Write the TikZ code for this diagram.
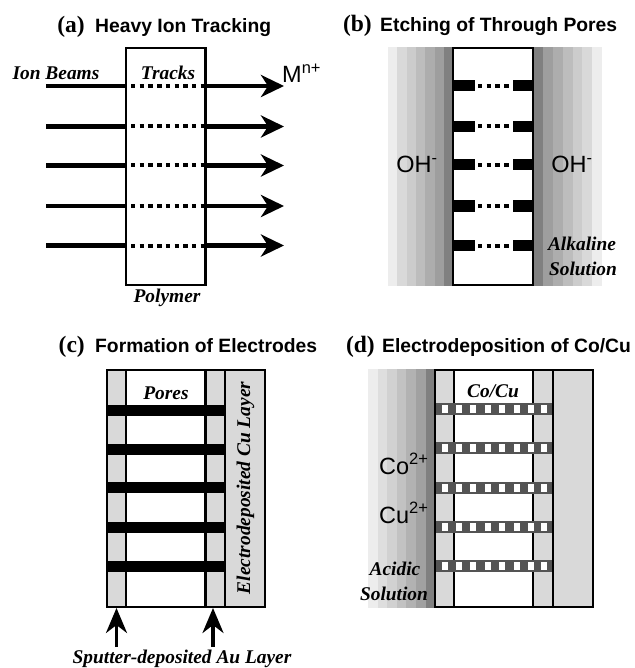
\documentclass[tikz,border=0pt]{standalone}
\usepackage{fontspec}
\setmainfont{Liberation Serif}
\setsansfont{Liberation Sans}
\usetikzlibrary{arrows.meta}
\definecolor{mlayer}{gray}{0.85}
\definecolor{mdeposit}{gray}{0.33}
\tikzset{
  wall/.style={draw, line width=2.6pt},
  beam/.style={line width=4.3pt},
  beamhead/.style={line width=4.3pt, -{Stealth[length=23pt, width=22pt, inset=7pt]}},
  feed/.style={line width=3.4pt, -{Stealth[length=25pt, width=21pt, inset=8pt]}},
  track/.style={line width=4pt, dash pattern=on 4.4pt off 4.3pt},
  title/.style={font=\sffamily\bfseries\fontsize{19.3}{22}\selectfont, anchor=base west, inner sep=0pt},
  tag/.style={font=\rmfamily\bfseries\fontsize{23.5}{26}\selectfont, anchor=base east, inner sep=0pt},
  note/.style={font=\rmfamily\bfseries\itshape\fontsize{19.4}{22}\selectfont, anchor=base},
  ion/.style={font=\sffamily\fontsize{23.5}{26}\selectfont, anchor=base}
}
\begin{document}
\begin{tikzpicture}[x=1pt, y=-1pt]
  \useasboundingbox (0, 0) rectangle (634, 668);
  % (a)
  \node [tag] (taga) at (85, 32.5) {(a)};
  \node [title] (titlea) at (95, 32.5) {Heavy Ion Tracking};
  \draw [wall] (126, 48) rectangle (205.5, 285);
  \foreach \y in {86, 126.5, 165.5, 206, 245.5} {
    \draw [beam] (46, \y) -- (126, \y);
    \draw [beamhead] (205.5, \y) -- (284, \y);
    \draw [track] (131, \y) -- (204, \y);
  }
  \node [note] (beams) at (56, 80) {Ion Beams};
  \node [note] (tracks) at (168, 80) {Tracks};
  \node [note] (polymer) at (167, 302) {Polymer};
  \node [ion, anchor=base west, inner sep=0pt] (metal) at (282, 83) {M\textsuperscript{n+}};
  % (b)
  \node [tag] (tagb) at (372, 32) {(b)};
  \node [title] (titleb) at (380, 32) {Etching of Through Pores};
  \foreach \i/\g in {0/93, 1/85, 2/80, 3/74, 4/68, 5/62, 6/50} {
    \fill [black!\the\numexpr100-\g\relax] (388+\i*9.3, 47) rectangle (388+\i*9.3+9.5, 286);
    \fill [black!\the\numexpr100-\g\relax] (602-\i*9.8, 47) rectangle (602-\i*9.8-10, 286);
  }
  \draw [wall, fill=white] (453, 48) rectangle (533, 285);
  \foreach \y in {86, 126.5, 165, 206, 245.5} {
    \fill (453, \y-5.5) rectangle (475, \y+5.5);
    \fill (512.5, \y-5.5) rectangle (533, \y+5.5);
    \draw [track] (478, \y) -- (511, \y);
  }
  \node [ion] (ohleft) at (417, 173) {OH\textsuperscript{-}};
  \node [ion] (ohright) at (572, 173) {OH\textsuperscript{-}};
  \node [note] (alkaline) at (582, 250) {Alkaline};
  \node [note] (solutionb) at (583, 275) {Solution};
  % (c)
  \node [tag] (tagc) at (85, 352) {(c)};
  \node [title] (titlec) at (95, 352) {Formation of Electrodes};
  \draw [wall, fill=mlayer] (107, 370) rectangle (265, 607);
  \draw [wall, fill=white] (126, 370) rectangle (205.5, 607);
  \draw [wall] (225, 370) -- (225, 607);
  \foreach \y in {410.5, 449, 487.5, 527, 566.5} {
    \fill (108, \y-5.5) rectangle (224, \y+5.5);
  }
  \node [note] (pores) at (166, 399) {Pores};
  \node [note, rotate=90] (culayer) at (250, 488) {Electrodeposited Cu Layer};
  \coordinate (leftfoot) at (116.5, 647);
  \coordinate (lefthead) at (116.5, 608);
  \coordinate (rightfoot) at (213, 647);
  \coordinate (righthead) at (213, 608);
  \draw [feed] (leftfoot) -- (lefthead);
  \draw [feed] (rightfoot) -- (righthead);
  \node [note] (sputter) at (182, 663) {Sputter-deposited Au Layer};
  % (d)
  \node [tag] (tagd) at (375, 352) {(d)};
  \node [title] (titled) at (382, 352) {Electrodeposition of Co/Cu};
  \foreach \i/\g in {0/93, 1/87, 2/82, 3/76, 4/70, 5/63, 6/50} {
    \fill [black!\the\numexpr100-\g\relax] (368+\i*9.6, 369) rectangle (368+\i*9.6+10, 608);
  }
  \draw [wall, fill=mlayer] (435, 370) rectangle (593, 607);
  \draw [wall, fill=white] (454, 370) rectangle (533, 607);
  \draw [wall] (553, 370) -- (553, 607);
  \foreach \y in {408.5, 447.5, 488, 527, 566} {
    \fill [mdeposit] (436, \y-6) rectangle (552, \y+6);
    \foreach \x in {445, 459, 473, 488, 502, 517, 531, 544} {
      \fill [white] (\x-3, \y-4) rectangle (\x+3, \y+4);
    }
  }
  \node [note] (codeposit) at (493, 397) {Co/Cu};
  \node [ion, anchor=base west, inner sep=0pt] (cobalt) at (379, 474) {Co\textsuperscript{2+}};
  \node [ion, anchor=base west, inner sep=0pt] (copper) at (379, 523) {Cu\textsuperscript{2+}};
  \node [note] (acidic) at (395, 575) {Acidic};
  \node [note] (solutiond) at (394, 600) {Solution};
\end{tikzpicture}
\end{document}
